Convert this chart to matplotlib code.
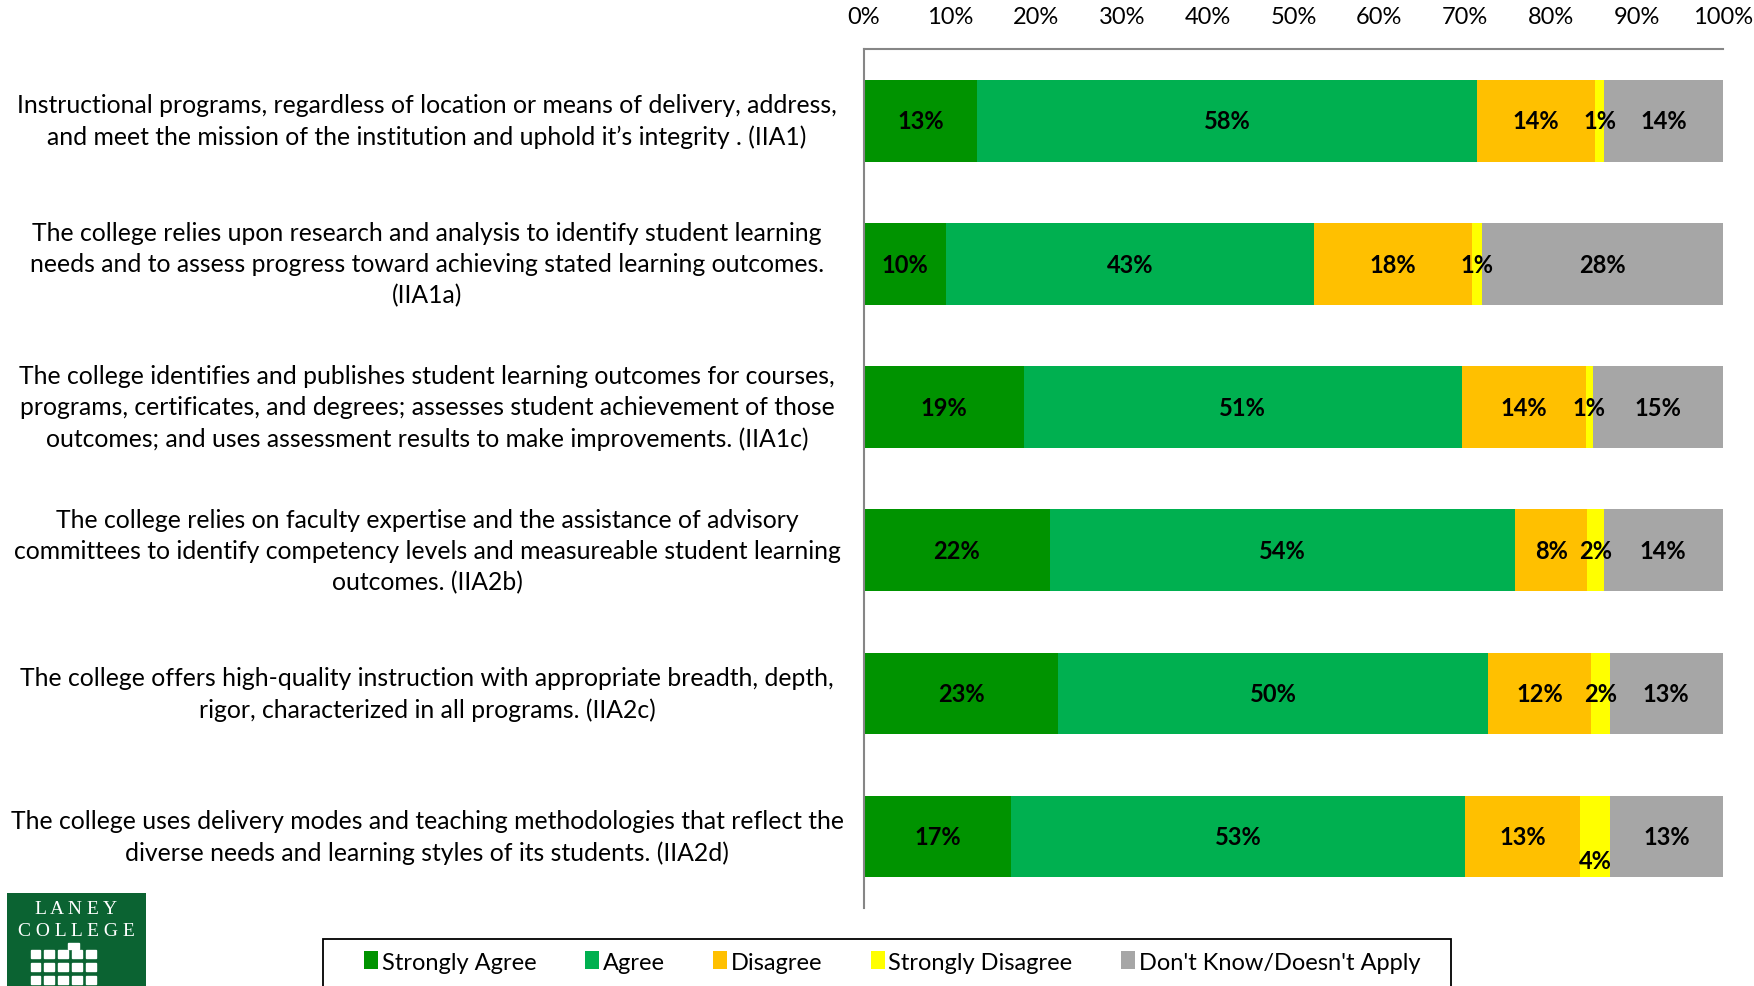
import matplotlib
matplotlib.use("Agg")
import matplotlib.pyplot as plt
import matplotlib.transforms as mtransforms
from matplotlib.patches import Patch, Rectangle
import numpy as np

plt.rcParams['font.family'] = ['Lato', 'DejaVu Sans']

questions = [
    "Instructional programs, regardless of location or means of delivery, address,\n"
    "and meet the mission of the institution and uphold it\u2019s integrity . (IIA1)",
    "The college relies upon research and analysis to identify student learning\n"
    "needs and to assess progress toward achieving stated learning outcomes.\n(IIA1a)",
    "The college identifies and publishes student learning outcomes for courses,\n"
    "programs, certificates, and degrees; assesses student achievement of those\n"
    "outcomes; and uses assessment results to make improvements. (IIA1c)",
    "The college relies on faculty expertise and the assistance of advisory\n"
    "committees to identify competency levels and measureable student learning\n"
    "outcomes. (IIA2b)",
    "The college offers high-quality instruction with appropriate breadth, depth,\n"
    "rigor, characterized in all programs. (IIA2c)",
    "The college uses delivery modes and teaching methodologies that reflect the\n"
    "diverse needs and learning styles of its students. (IIA2d)",
]

categories = ["Strongly Agree", "Agree", "Disagree", "Strongly Disagree",
              "Don't Know/Doesn't Apply"]
colors = ["#009300", "#00B050", "#FFC000", "#FFFF00", "#A6A6A6"]

strongly_agree = [13.2, 9.6, 18.6, 21.6, 22.6, 17.1]
agree = [58.2, 42.8, 51.0, 54.2, 50.1, 52.9]
disagree = [13.7, 18.4, 14.4, 8.4, 11.9, 13.3]
strongly_disagree = [1.1, 1.1, 0.9, 1.9, 2.2, 3.6]
dont_know = [13.8, 28.1, 15.1, 13.9, 13.2, 13.1]

series = [strongly_agree, agree, disagree, strongly_disagree, dont_know]

fig = plt.figure(figsize=(17.54, 9.87), dpi=100)
ax = fig.add_axes([0.4926, 0.079, 0.4897, 0.870])

y = np.arange(len(questions))
left = np.zeros(len(questions))
for vals, col, name in zip(series, colors, categories):
    vals = np.array(vals)
    ax.barh(y, vals, left=left, height=0.57, color=col, label=name,
            edgecolor='none')
    for i, v in enumerate(vals):
        dy = 0
        if name == "Strongly Disagree" and v > 3:
            dy = 0.17
        ax.text(left[i] + v / 2, y[i] + dy, "%d%%" % round(v),
                ha='center', va='center', fontsize=17, fontweight='bold',
                color='black')
    left += vals

ax.set_xlim(0, 100)
ax.set_ylim(len(questions) - 0.5, -0.5)
ax.xaxis.tick_top()
ax.set_xticks(np.arange(0, 101, 10))
ax.set_xticklabels(["%d%%" % t for t in range(0, 101, 10)], fontsize=17)
ax.tick_params(axis='x', length=0, pad=16)
ax.set_yticks([])
for s in ['right', 'bottom']:
    ax.spines[s].set_visible(False)
for s in ['top', 'left']:
    ax.spines[s].set_color('#868686')
    ax.spines[s].set_linewidth(1.5)

trans = mtransforms.blended_transform_factory(fig.transFigure, ax.transData)
for i, q in enumerate(questions):
    ax.text(0.2435, y[i], q, transform=trans, ha='center', va='center',
            multialignment='center', fontsize=17.8, linespacing=1.42)

handles = [Patch(facecolor=c, edgecolor='none') for c in colors]
leg = fig.legend(handles, categories, loc='center',
                 bbox_to_anchor=(0.5086, 0.0243), ncol=5, fontsize=17,
                 frameon=False, handlelength=0.6, handleheight=0.8,
                 handletextpad=0.15, columnspacing=2.05, borderaxespad=0)
fig.patches.append(Rectangle((0.1843, -0.05), 0.6428, 0.098,
                             transform=fig.transFigure, facecolor='none',
                             edgecolor='black', linewidth=1.3))

# logo in lower left corner
logo = fig.add_axes([0.004, 0.0, 0.079, 0.094])
logo.set_xlim(0, 1)
logo.set_ylim(0, 1)
logo.axis('off')
logo.add_patch(Rectangle((0, 0), 1, 1.2, color='#0B6332'))
logo.text(0.5, 0.83, "L A N E Y", color='white', ha='center', va='center',
          family='Liberation Serif', fontsize=14)
logo.text(0.5, 0.6, "C O L L E G E", color='white', ha='center', va='center',
          family='Liberation Serif', fontsize=14)
for r in range(3):
    for c in range(5):
        logo.add_patch(Rectangle((0.17 + c * 0.1, 0.3 - r * 0.14), 0.07, 0.09,
                                 color='white'))
logo.add_patch(Rectangle((0.44, 0.4), 0.08, 0.06, color='white'))

fig.savefig("out.png", dpi=100)
